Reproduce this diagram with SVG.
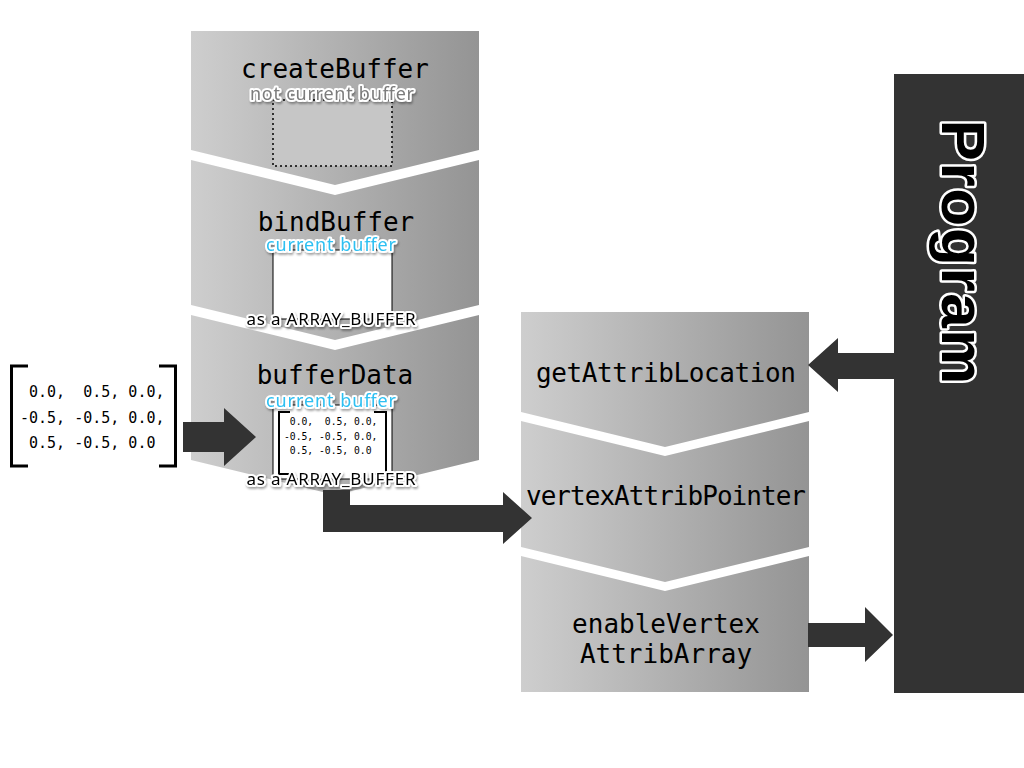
<svg xmlns="http://www.w3.org/2000/svg" width="1024" height="768" viewBox="0 0 1024 768">
<defs>
<linearGradient id="g" x1="0" y1="0" x2="1" y2="0">
<stop offset="0" stop-color="#cecece"/>
<stop offset="1" stop-color="#949494"/>
</linearGradient>
<filter id="sh" x="-10%" y="-30%" width="120%" height="160%">
<feDropShadow dx="1" dy="2" stdDeviation="1.2" flood-color="#000" flood-opacity="0.35"/>
</filter>
</defs>
<style>
.blk{fill:url(#g)}
.mono{font-family:"DejaVu Sans Mono","Liberation Mono",monospace;fill:#000}
.fn{font-size:26px;text-anchor:middle}
.tag{font-family:"Noto Sans","DejaVu Sans",sans-serif;font-size:18px;text-anchor:middle;stroke:#fff;stroke-width:4;paint-order:stroke;stroke-linejoin:round}
.grey{fill:#7c7c7c}
.cyan{fill:#2ec0f2}
.as{font-family:"Noto Sans","DejaVu Sans",sans-serif;font-size:17px;text-anchor:middle;fill:#000;stroke:#fff;stroke-width:4;paint-order:stroke;stroke-linejoin:round}
.arr{fill:#333}
.brk{fill:none;stroke:#000}
.pre{white-space:pre}
</style>

<g id="createBuffer">
<polygon class="blk" points="191,31 479,31 479,150 335,185 191,150"/>
<rect x="273" y="100" width="119" height="66" fill="#c6c6c6" stroke="#000" stroke-width="1.5" stroke-dasharray="2,3"/>
<text class="mono fn" x="335" y="78">createBuffer</text>
<text class="tag grey" x="332" y="100" textLength="164" filter="url(#sh)">not current buffer</text>
</g>

<g id="bindBuffer">
<polygon class="blk" points="191,160 335,195 479,160 479,305 335,340 191,305"/>
<rect x="273" y="250" width="119" height="69" fill="#fff" stroke="#000" stroke-width="1"/>
<text class="mono fn" x="336" y="231">bindBuffer</text>
<text class="tag cyan" x="331" y="251" textLength="130" filter="url(#sh)">current buffer</text>
<text class="as" x="331" y="325" textLength="169" filter="url(#sh)">as a ARRAY_BUFFER</text>
</g>

<g id="bufferData">
<polygon class="blk" points="191,315 335,350 479,315 479,460 335,495 191,460"/>
<rect x="273" y="405" width="119" height="74" fill="#fff" stroke="#000" stroke-width="1"/>
<path class="brk" stroke-width="2" d="M290,412 H279 V474 H290 M374,412 H386 V474 H374"/>
<text class="mono pre" font-size="9.7" x="284" y="425"> 0.0,  0.5, 0.0,</text>
<text class="mono pre" font-size="9.7" x="284" y="440">-0.5, -0.5, 0.0,</text>
<text class="mono pre" font-size="9.7" x="284" y="454"> 0.5, -0.5, 0.0</text>
<text class="mono fn" x="335" y="384">bufferData</text>
<text class="tag cyan" x="331" y="407" textLength="130" filter="url(#sh)">current buffer</text>
<text class="as" x="331" y="485" textLength="169" filter="url(#sh)">as a ARRAY_BUFFER</text>
</g>

<g id="vertices">
<path class="brk" stroke-width="3" d="M28,366 H11.5 V466 H28 M159,366 H175.5 V466 H159"/>
<text class="mono pre" font-size="15" x="20" y="397"> 0.0,  0.5, 0.0,</text>
<text class="mono pre" font-size="15" x="20" y="423">-0.5, -0.5, 0.0,</text>
<text class="mono pre" font-size="15" x="20" y="448"> 0.5, -0.5, 0.0</text>
</g>

<g id="getAttribLocation">
<polygon class="blk" points="521,312 809,312 809,412 665,447 521,412"/>
<text class="mono fn" x="666" y="382" textLength="260">getAttribLocation</text>
</g>

<g id="vertexAttribPointer">
<polygon class="blk" points="521,421 665,456 809,421 809,547 665,582 521,547"/>
<text class="mono fn" x="666" y="505" textLength="280">vertexAttribPointer</text>
</g>

<g id="enableVertexAttribArray">
<polygon class="blk" points="521,556 665,591 809,556 809,692 521,692"/>
<text class="mono fn" x="666" y="633">enableVertex</text>
<text class="mono fn" x="666" y="663">AttribArray</text>
</g>

<g id="Program">
<rect x="894" y="74" width="130" height="619" fill="#333"/>
<text transform="translate(942,252) rotate(90)" text-anchor="middle" font-family="'Liberation Sans',Arial,sans-serif" font-weight="bold" font-size="62" textLength="265" fill="#000" stroke="#fff" stroke-width="5" stroke-linejoin="round" paint-order="stroke">Program</text>
</g>

<g id="connectors">
<polygon class="arr" points="183,422 224,422 224,408 256,437 224,466 224,452 183,452"/>
<polygon class="arr" points="323,490 350,490 350,505 503,505 503,492 532,518 503,544 503,532 323,532"/>
<polygon class="arr" points="894,353 838,353 838,338 808,365 838,392 838,379 894,379"/>
<polygon class="arr" points="808,623 865,623 865,607 893,635 865,662 865,647 808,647"/>
</g>
</svg>
